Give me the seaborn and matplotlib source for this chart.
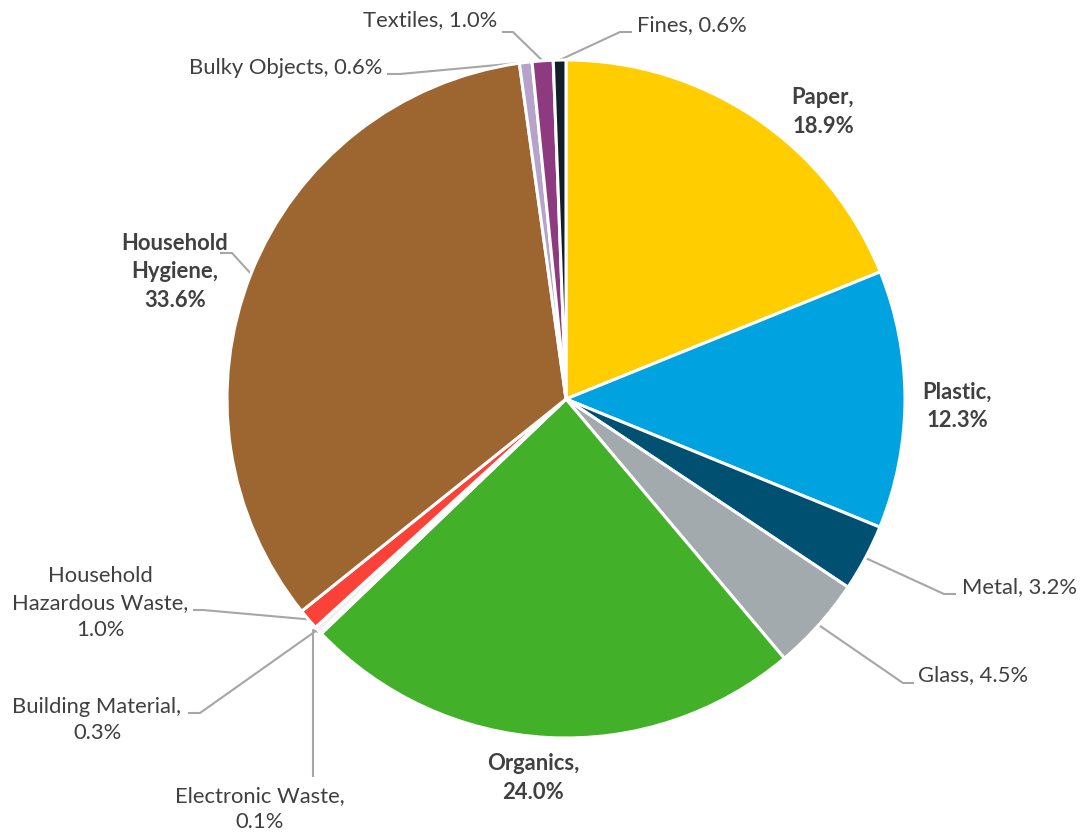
import numpy as np
import matplotlib
matplotlib.use("Agg")
import matplotlib.pyplot as plt
import seaborn as sns

# Waste composition by category (percent)
categories = [
    "Paper", "Plastic", "Metal", "Glass", "Organics", "Electronic Waste",
    "Building Material", "Household Hazardous Waste", "Household Hygiene",
    "Bulky Objects", "Textiles", "Fines",
]
shares = [18.9, 12.3, 3.2, 4.5, 24.0, 0.1, 0.3, 1.0, 33.6, 0.6, 1.0, 0.6]
colors = [
    "#FFCD00", "#00A3E0", "#005072", "#A3AAAD", "#43B02A", "#5B6770",
    "#F2F2F2", "#FA4238", "#9D6630", "#B5A3CC", "#8E3A80", "#131E29",
]
# label text as drawn (line breaks included)
label_names = {
    "Paper": "Paper,", "Plastic": "Plastic,", "Metal": "Metal,", "Glass": "Glass,",
    "Organics": "Organics,", "Electronic Waste": "Electronic Waste,",
    "Building Material": "Building Material,",
    "Household Hazardous Waste": "Household\nHazardous Waste,",
    "Household Hygiene": "Household\nHygiene,", "Bulky Objects": "Bulky Objects,",
    "Textiles": "Textiles,", "Fines": "Fines,",
}
bold_labels = {"Paper", "Plastic", "Organics", "Household Hygiene"}
inline_value = {"Metal", "Glass", "Bulky Objects", "Textiles", "Fines"}

W, H = 1081, 835
sns.set_theme(style="white")
plt.rcParams["font.family"] = ["Lato", "DejaVu Sans"]

fig = plt.figure(figsize=(W / 100, H / 100), dpi=100)
ax = fig.add_axes([0, 0, 1, 1])

cx, cy, R = 566, H - 399, 339
wedges, _ = ax.pie(
    shares, colors=colors, startangle=90, counterclock=False,
    center=(cx, cy), radius=R, frame=True,
    wedgeprops=dict(edgecolor="white", linewidth=2.2),
)
ax.set_xlim(0, W)
ax.set_ylim(0, H)
ax.set_aspect("equal")
ax.axis("off")


def py(y):
    return H - y


# label placement: text centre, alignment, leader-line bend points (x, y from top)
layout = {
    "Paper": dict(xy=(823, 112), ha="center", path=None),
    "Plastic": dict(xy=(957, 406), ha="center", path=None),
    "Metal": dict(xy=(962, 587), ha="left", path=[(944, 594), (956, 594)]),
    "Glass": dict(xy=(918, 675), ha="left", path=[(903, 683), (914, 683)]),
    "Organics": dict(xy=(533, 778), ha="center", path=None),
    "Electronic Waste": dict(xy=(260, 809), ha="center", path=[(313, 630), (313, 777)]),
    "Building Material": dict(xy=(97, 720), ha="center", path=[(200, 713), (188, 713)]),
    "Household Hazardous Waste": dict(xy=(100, 603), ha="center", path=[(203, 610), (193, 610)]),
    "Household Hygiene": dict(xy=(175, 272), ha="center", path=[(232, 253), (220, 253)]),
    "Bulky Objects": dict(xy=(382, 68), ha="right", path=[(400, 74), (387, 74)]),
    "Textiles": dict(xy=(430, 20), ha="center", path=[(513, 32), (502, 32)]),
    "Fines": dict(xy=(637, 25), ha="left", path=[(620, 32), (632, 32)]),
}

text_color = "#404040"
line_color = "#A6A6A6"
for w, name, val in zip(wedges, categories, shares):
    spec = layout[name]
    sep = " " if name in inline_value else "\n"
    text = f"{label_names[name]}{sep}{val:.1f}%"
    weight = "bold" if name in bold_labels else "normal"
    tx, ty = spec["xy"]
    ax.text(tx, py(ty), text, ha=spec["ha"], va="center", fontsize=15.8,
            color=text_color, fontweight=weight, linespacing=1.42,
            multialignment="center")
    if spec["path"]:
        ang = np.deg2rad((w.theta1 + w.theta2) / 2)
        ex, ey = cx + R * np.cos(ang), cy + R * np.sin(ang)
        xs = [ex] + [p[0] for p in spec["path"]]
        ys = [ey] + [py(p[1]) for p in spec["path"]]
        ax.plot(xs, ys, color=line_color, lw=1.5, solid_capstyle="butt", zorder=0)

fig.savefig("out.png", dpi=100, facecolor="white")
